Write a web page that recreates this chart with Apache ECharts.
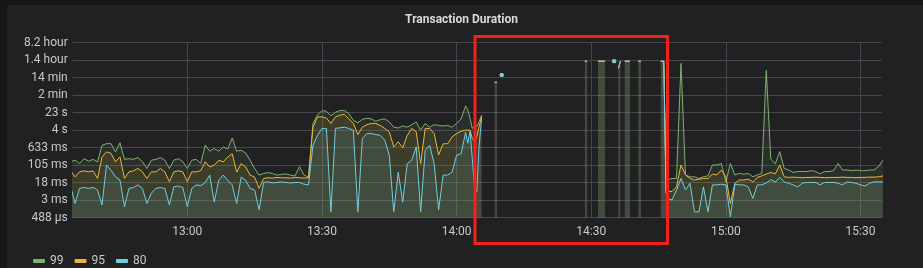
<!DOCTYPE html>
<html>
<head>
<meta charset="utf-8">
<script src="https://cdn.jsdelivr.net/npm/echarts@6/dist/echarts.min.js"></script>
<style>
  html, body { margin: 0; padding: 0; background: #161719; }
  #chart { width: 923px; height: 268px; }
</style>
</head>
<body>
<div id="chart"></div>
<script>
// ---- data (durations in milliseconds, null = no data) ----
const times = [
  "12:34","12:35","12:36","12:37","12:38","12:39","12:40","12:41","12:42","12:43",
  "12:44","12:45","12:46","12:47","12:48","12:49","12:50","12:51","12:52","12:53",
  "12:54","12:55","12:56","12:57","12:58","12:59","13:00","13:01","13:02","13:03",
  "13:04","13:05","13:06","13:07","13:08","13:09","13:10","13:11","13:12","13:13",
  "13:14","13:15","13:16","13:17","13:18","13:19","13:20","13:21","13:22","13:23",
  "13:24","13:25","13:26","13:27","13:28","13:29","13:30","13:31","13:32","13:33",
  "13:34","13:35","13:36","13:37","13:38","13:39","13:40","13:41","13:42","13:43",
  "13:44","13:45","13:46","13:47","13:48","13:49","13:50","13:51","13:52","13:53",
  "13:54","13:55","13:56","13:57","13:58","13:59","14:00","14:01","14:02","14:02:30",
  "14:03:00","14:03:30","14:04:00","14:04:30","14:05:00","14:05:35","14:06:00",
  "14:08:30","14:09:00","14:09:20","14:10:03","14:10:30",
  "14:28:35","14:29:05","14:29:30",
  "14:31:30","14:32:20","14:33:05","14:33:30",
  "14:35:05","14:35:40",
  "14:36:02","14:36:30","14:37:00",
  "14:37:28","14:38:00","14:38:38","14:39:00",
  "14:40:30","14:41:05","14:41:30",
  "14:45:29","14:46:10","14:46:40",
  "14:47","14:48","14:49","14:50","14:51","14:52","14:53","14:54","14:55","14:56",
  "14:57","14:58","14:59","15:00","15:01","15:02","15:03","15:04","15:05","15:06",
  "15:07","15:08","15:09","15:10","15:11","15:12","15:13","15:14","15:15","15:16",
  "15:17","15:18","15:19","15:20","15:21","15:22","15:23","15:24","15:25","15:26",
  "15:27","15:28","15:29","15:30","15:31","15:32","15:33","15:34","15:35"
];

const p99 = [
  148,175,125,205,158,190,148,800,950,950,
  410,1040,190,205,190,230,150,75,175,190,
  230,175,75,175,205,150,75,175,190,125,
  830,440,580,440,680,540,1700,440,480,370,
  172,75,38,45,49,45,38,41,43,38,
  35,90,38,31,7500,17500,28000,26000,16500,23500,
  28000,28000,20500,10300,8000,11400,12700,12000,9300,11000,
  12000,8700,5100,4700,5800,5100,6600,8700,3750,7500,
  5100,6600,6100,5800,6100,5100,7500,12000,45000,30000,
  12500,4500,5400,5400,9000,17700,null,
  505000,505000,null,1060000,null,
  4350000,4350000,null,
  4350000,4350000,4350000,null,
  4350000,null,
  2100000,4350000,null,
  4350000,4350000,4350000,null,
  4350000,4350000,null,
  4350000,4350000,30,
  23,27,27,3500000,39,32,32,27,32,35,
  107,107,125,19,125,39,45,42,45,32,
  39,45,1700000,200,120,420,75,64,50,55,
  55,55,60,55,43,55,55,60,125,64,
  64,60,64,60,60,64,64,90,175
];

const p95 = [
  59,32,53,59,53,59,27,245,410,350,
  148,245,27,53,59,75,53,27,53,53,
  75,53,19.5,53,59,53,19.5,53,53,60,
  148,88,105,172,148,240,340,52,123,88,
  38,31,9.8,27,29,28,30,29,29,28,
  30,29,28,29,5100,14600,14600,13000,7500,14600,
  17500,19000,12000,7500,2400,5100,6600,7500,7500,6100,
  4500,3200,680,1150,620,2200,4500,3200,123,4500,
  4500,2650,300,940,940,1900,2650,3400,3800,3800,
  3800,1600,1170,1900,5400,14800,null,
  505000,505000,null,1060000,null,
  4350000,4350000,null,
  4350000,4350000,4350000,null,
  4350000,null,
  2100000,4350000,null,
  4350000,4350000,4350000,null,
  4350000,4350000,null,
  4350000,4350000,7.1,
  7.1,7.1,11.4,107,39,27,23,25,27,27,
  42,39,64,32,2.1,16.5,23,23,25,19,
  30,35,42,50,43,107,32,30,31,30,
  29,30,30,31,30,29,30,30,30,31,
  30,30,29,30,30,31,31,32,35
];

const p80 = [
  12.5,2.1,9.8,10.7,9.8,10.7,8.3,1.8,105,63,
  32,23,1.5,9.8,10.7,14,9.8,2.1,6,9.8,
  10.7,9.8,1.8,11.5,12.5,10.7,1.5,9.8,14,13,
  18,38,2.4,22.5,38,22.5,14,2.1,31,22.5,
  9.8,8.2,1.1,18,19,17,18,19,18,17,
  18,18,15,14,800,2200,4500,4500,0.9,4500,
  4800,5100,4500,3750,0.9,1600,2650,2650,2400,2200,
  1350,290,0.9,52,2.4,123,172,680,0.9,480,
  790,123,1.1,38,38,52,290,340,3000,1000,
  3300,200,12,7,700,14800,null,
  505000,505000,null,1060000,null,
  4350000,4350000,null,
  4350000,4350000,4350000,null,
  4350000,null,
  2100000,4350000,null,
  4350000,4350000,4350000,null,
  4350000,4350000,null,
  4350000,4350000,6,
  3.5,3.0,8.3,27,8.3,16.5,0.89,0.89,11.4,0.89,
  14,14,15,14,0.54,15,14,14,11.4,3.5,
  14,14,17,24,19,30,19,16.5,14,11.4,
  16.5,18,18,18,14,18,18,18,16.5,14,
  19,18,16.5,14,12.5,16.5,19,19,19
];

const seriesNames = ["99", "95", "80"];
const seriesColors = ["#7EB26D", "#EAB839", "#6ED0E0"];
const yTickLabels = ["488 µs","3 ms","18 ms","105 ms","633 ms","4 s","23 s","2 min","14 min","1.4 hour","8.2 hour"];
const xTickLabels = ["13:00","13:30","14:00","14:30","15:00","15:30"];
const xStart = "12:34:28";
const xEnd = "15:34:43";

// ---- helpers ----
// time of day -> minutes since midnight
function tmin(hms) {
  const p = hms.split(":").map(Number);
  return p[0] * 60 + p[1] + (p[2] || 0) / 60;
}
// axis unit: 2^-11 s (the y ticks are powers of 6 of that unit)
const UNIT_MS = 1000 / 2048;
function buildData(arr) {
  return arr.map((v, i) => {
    const t = tmin(times[i]);
    if (v == null) return [t, null];
    const item = { value: [t, v / UNIT_MS] };
    const prev = i > 0 ? arr[i - 1] : null;
    const next = i < arr.length - 1 ? arr[i + 1] : null;
    if (prev == null && next == null) {
      item.symbol = "circle";
      item.symbolSize = 4;
    }
    return item;
  });
}
function pad(n) { return (n < 10 ? "0" : "") + n; }

const xTickValues = xTickLabels.map(tmin);
const yTickValues = yTickLabels.map((_, k) => Math.pow(6, k));

const gridColor = "#45454a";
const textColor = "#c8c9ca";
const font = "Roboto, 'Noto Sans', sans-serif";

const chart = echarts.init(document.getElementById("chart"), null, { renderer: "canvas" });
const allData = [p99, p95, p80];

chart.setOption({
  backgroundColor: "#161719",
  animation: false,
  graphic: [
    { type: "rect", z: -100, silent: true, shape: { x: 7, y: 5, width: 916, height: 263 }, style: { fill: "#212124" } },
    { type: "rect", z: 100, silent: true, shape: { x: 475, y: 36.5, width: 192.5, height: 207 },
      style: { fill: "none", stroke: "#f5201a", lineWidth: 3 } }
  ],
  title: {
    text: "Transaction Duration",
    left: "center",
    top: 9,
    textStyle: { color: "#d8d9da", fontSize: 12, fontWeight: "bold", fontFamily: font }
  },
  legend: {
    left: 28,
    top: 250,
    icon: "roundRect",
    itemWidth: 12,
    itemHeight: 4,
    itemGap: 11,
    textStyle: { color: textColor, fontSize: 12, fontFamily: font },
    data: seriesNames
  },
  grid: { left: 72.7, right: 41.3, top: 42.5, bottom: 50.3, containLabel: false },
  xAxis: {
    type: "value",
    min: tmin(xStart),
    max: tmin(xEnd),
    axisLine: { show: false },
    axisTick: { show: false, customValues: xTickValues },
    splitLine: { show: true, lineStyle: { color: gridColor, width: 1 } },
    axisLabel: {
      color: textColor, fontSize: 12, fontFamily: font, margin: 8,
      customValues: xTickValues,
      formatter: function (val) {
        const m = Math.round(val);
        return pad(Math.floor(m / 60)) + ":" + pad(m % 60);
      }
    }
  },
  yAxis: {
    type: "log",
    logBase: 6,
    min: 1,
    max: Math.pow(6, 10),
    axisLine: { show: false },
    axisTick: { show: false, customValues: yTickValues },
    splitLine: { show: true, lineStyle: { color: gridColor, width: 1 } },
    axisLabel: {
      color: textColor, fontSize: 12, fontFamily: font, margin: 5,
      customValues: yTickValues,
      formatter: function (val) {
        const k = Math.round(Math.log(val) / Math.log(6));
        return yTickLabels[k] !== undefined ? yTickLabels[k] : "";
      }
    }
  },
  series: seriesNames.map((name, si) => ({
    name: name,
    type: "line",
    data: buildData(allData[si]),
    color: seriesColors[si],
    symbol: "none",
    showSymbol: true,
    connectNulls: false,
    clip: true,
    lineStyle: { width: 1, color: seriesColors[si] },
    itemStyle: { color: seriesColors[si] },
    areaStyle: { origin: "start", color: seriesColors[si], opacity: 0.1 },
    emphasis: { disabled: true }
  }))
});
</script>
</body>
</html>
